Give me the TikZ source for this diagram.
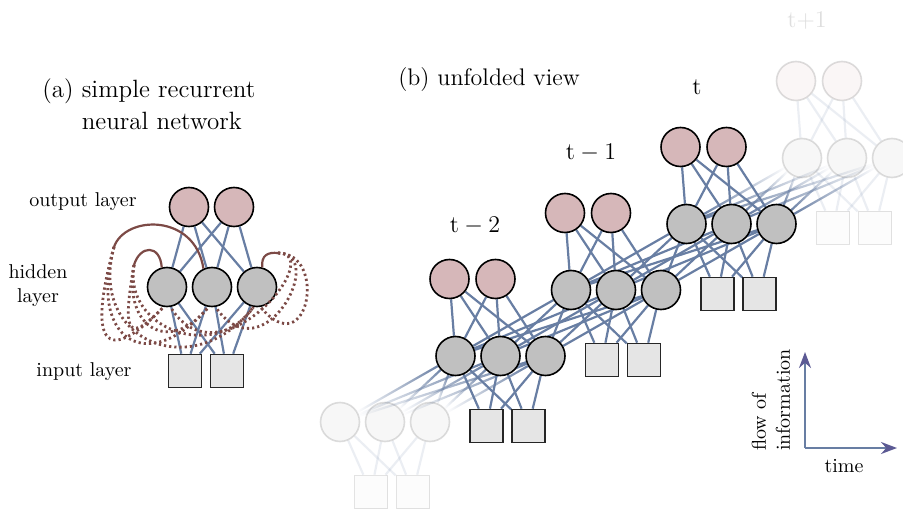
\documentclass[tikz,border=0pt]{standalone}
\usepackage{amsfonts}
\usepackage{tikz}
\usetikzlibrary{arrows,arrows.meta,shapes,positioning,fadings,backgrounds}

\definecolor{outcol}{RGB}{214,183,185}
\definecolor{hidcol}{RGB}{192,192,192}
\definecolor{incol}{RGB}{229,229,229}
\definecolor{wcol}{RGB}{104,126,163}
\definecolor{reccol}{RGB}{124,74,70}
\definecolor{axcol}{RGB}{92,90,148}

\tikzset{
	outunit/.style={circle,draw=black,line width=0.8pt,fill=outcol,minimum size=19.5pt,inner sep=0pt},
	hidunit/.style={circle,draw=black,line width=0.8pt,fill=hidcol,minimum size=19.5pt,inner sep=0pt},
	inunit/.style={rectangle,draw=black!85,line width=0.8pt,fill=incol,minimum size=16.5pt,inner sep=0pt},
	weight/.style={draw=wcol,line width=1.1pt},
	recur/.style={draw=reccol,line width=1.1pt},
	recdot/.style={draw=reccol,line width=1.4pt,dash pattern=on 1.1pt off 1.5pt},
	lbl/.style={inner sep=0pt},
	ghost/.style={opacity=0.13},
	lit/.style={},
	fadeleft/.style={path fading=west},
	faderight/.style={path fading=east},
	axis/.style={draw=wcol,line width=1.1pt,-{Stealth[length=8pt,width=6pt,color=axcol]}}
}

\begin{document}
\begin{tikzpicture}[x=0.5pt,y=0.5pt]
	\useasboundingbox (0,0) rectangle (903,509);
	% (a) simple recurrent network
	\node[lbl,font=\fontsize{12.5}{15}\selectfont,align=left,anchor=west] (titlea) at (42,405) {(a) simple recurrent\\[1pt]\hphantom{(a) }neural network};
	\node[outunit] (ao1) at (189,302) {};
	\node[outunit] (ao2) at (234,302) {};
	\foreach \i/\x in {1/167,2/212,3/257}
		\node[hidunit] (ah\i) at (\x,222) {};
	\node[inunit] (ai1) at (185,138) {};
	\node[inunit] (ai2) at (227,138) {};
	\node[lbl] (outlbl) at (83,307) {output layer};
	\node[lbl,align=center] (hidlbl) at (38,223) {hidden\\layer};
	\node[lbl] (inlbl) at (84,137) {input layer};
	%
	\begin{scope}[on background layer]
		\foreach \o in {1,2}
			\foreach \h in {1,2,3}
				\draw[weight] (ao\o) -- (ah\h);
		\foreach \h in {1,2,3}
			\foreach \i in {1,2}
				\draw[weight] (ah\h) -- (ai\i);
	\end{scope}
	% recurrent loops
	\coordinate (ar1) at (134,244);
	\coordinate (ar2) at (114,262);
	\coordinate (ar3) at (278,256);
	\draw[recur] (ah1.105) .. controls (160,265) and (140,264) .. (ar1);
	\draw[recur] (ah2.115) .. controls (195,296) and (125,294) .. (ar2);
	\draw[recur] (ah3.75) .. controls (261,254) and (268,257) .. (ar3);
	\foreach \k/\dy in {1/-40,2/-48,3/-56} {
		\draw[recdot] (ar1) .. controls (123,180) and +(-38,\dy) .. (ah\k.-100);
		\draw[recdot] (ar2) .. controls (88,168) and +(-60,\dy-22) .. (ah\k.-100);
	}
	\foreach \k/\dy in {1/-80,2/-70,3/-58}
		\draw[recdot] (ar3) .. controls (328,256) and +(48,\dy) .. (ah\k.-80);

	% (b) unfolded view
	\node[lbl,font=\large] (titleb) at (489,429) {(b) unfolded view};
	\foreach \g/\look in {0/ghost,1/lit,2/lit,3/lit,4/ghost} {
		\pgfmathsetmacro{\bx}{340+115.5*\g}
		\pgfmathsetmacro{\by}{87+66*\g}
		\foreach \h/\dx in {1/0,2/45,3/90}
			\node[hidunit,\look] (h\g\h) at (\bx+\dx,\by) {};
		\node[inunit,\look] (i\g1) at (\bx+31,\by-70) {};
		\node[inunit,\look] (i\g2) at (\bx+73,\by-70) {};
		\ifnum\g>0
			\node[outunit,\look] (o\g1) at (\bx-6,\by+77) {};
			\node[outunit,\look] (o\g2) at (\bx+40,\by+77) {};
		\fi
	}
	\node[lbl,font=\large] (tm2) at (475,283) {$\mathrm{t}-2$};
	\node[lbl,font=\large] (tm1) at (591,356) {$\mathrm{t}-1$};
	\node[lbl,font=\large] (tnow) at (697,422) {t};
	\node[lbl,font=\large,ghost] (tp1) at (807,489) {t+1};
	%
	\begin{scope}[on background layer]
		\foreach \g/\look in {0/ghost,1/lit,2/lit,3/lit,4/ghost} {
			\foreach \h in {1,2,3} {
				\foreach \i in {1,2}
					\draw[weight,\look] (h\g\h) -- (i\g\i);
				\ifnum\g>0
					\draw[weight,\look] (o\g1) -- (h\g\h);
					\draw[weight,\look] (o\g2) -- (h\g\h);
				\fi
			}
		}
		% hidden state passed on in time
		\foreach \g/\fd in {0/fadeleft,1/lit,2/lit,3/faderight} {
			\pgfmathtruncatemacro{\n}{\g+1}
			\foreach \a in {1,2,3}
				\foreach \b in {1,2,3}
					\draw[weight,\fd] (h\g\a) -- (h\n\b);
		}
	\end{scope}

	% time axis
	\coordinate (origin) at (805,61);
	\coordinate (flowtip) at (805,157);
	\coordinate (timetip) at (897,61);
	\draw[axis] (origin) -- (flowtip);
	\draw[axis] (origin) -- (timetip);
	\node[lbl,rotate=90,align=left] (flowlbl) at (771,109) {flow of\\information};
	\node[lbl] (timelbl) at (844,43) {time};
\end{tikzpicture}
\end{document}
